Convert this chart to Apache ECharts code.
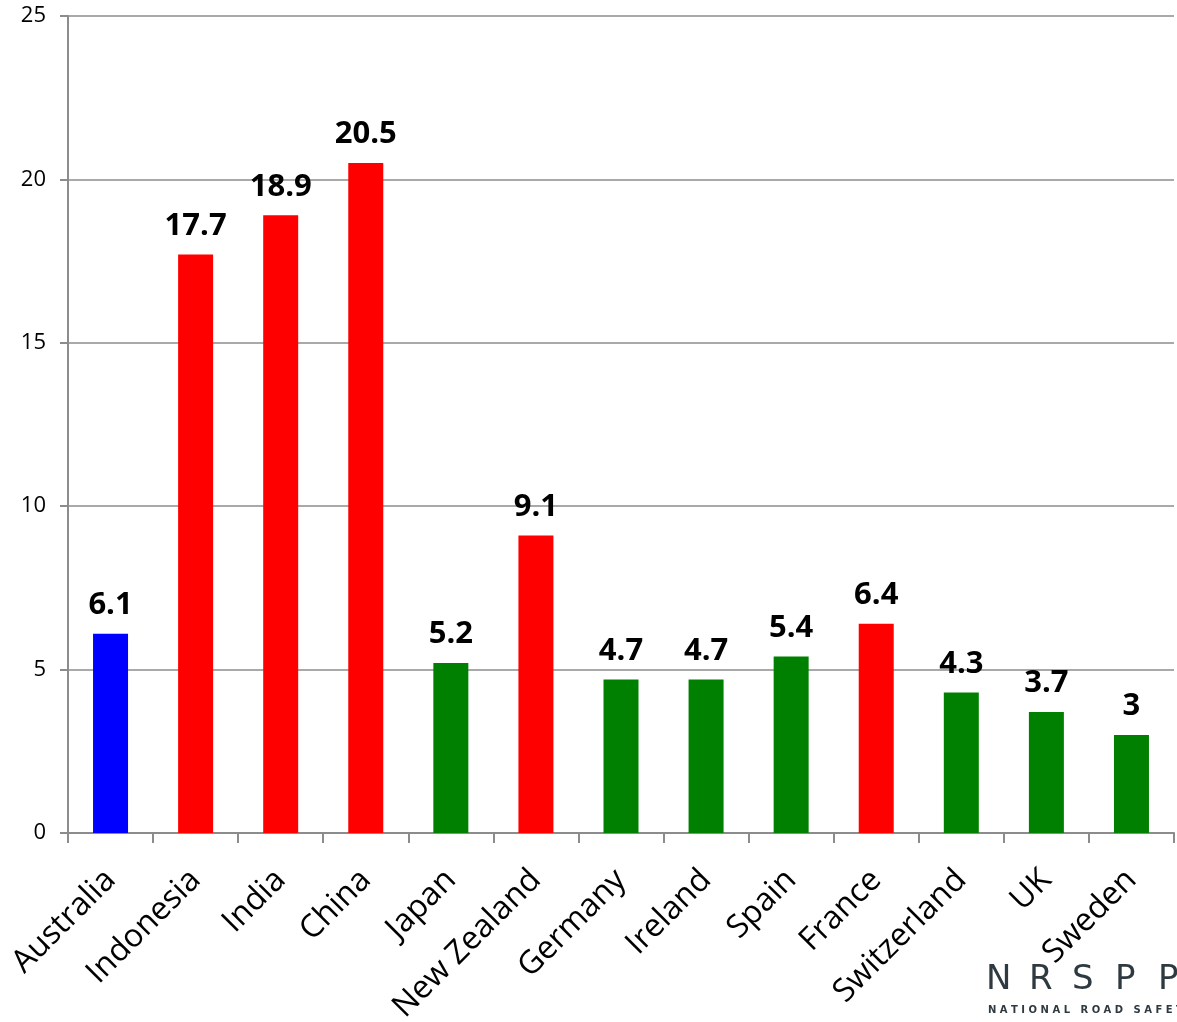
<!DOCTYPE html>
<html><head><meta charset="utf-8">
<script src="https://cdn.jsdelivr.net/npm/echarts@6/dist/echarts.min.js"></script>
<style>html,body{margin:0;padding:0;background:#fff}#c{width:1177px;height:1022px}</style>
</head><body><div id="c"></div>
<script>
const categories = ['Australia','Indonesia','India','China','Japan','New Zealand','Germany','Ireland','Spain','France','Switzerland','UK','Sweden'];
const values = [6.1,17.7,18.9,20.5,5.2,9.1,4.7,4.7,5.4,6.4,4.3,3.7,3];
const groups = ['blue','red','red','red','green','red','green','green','green','red','green','green','green'];
const palette = {blue:'#0000FF', red:'#FF0000', green:'#008000'};
const yTicks = {min:0, max:25, interval:5};
const logoLetters = ['N','R','S','P','P'];

const chart = echarts.init(document.getElementById('c'));
const logo = logoLetters.map((ch,i)=>({type:'text', left:986 + i*43, top:963,
  style:{text:ch, fill:'#2e3a40', font:'34px "DejaVu Sans"'}}));
chart.setOption({
  animation:false,
  grid:{left:68, right:3, top:16, bottom:189, containLabel:false, outerBoundsMode:'none'},
  xAxis:{
    type:'category', data:categories,
    axisLine:{lineStyle:{color:'#8c8c8c', width:2}},
    axisTick:{show:true, length:10, alignWithLabel:false, lineStyle:{color:'#8c8c8c', width:2}},
    axisLabel:{rotate:45, interval:0, margin:42, color:'#000', fontSize:32, fontFamily:'Open Sans'}
  },
  yAxis:{
    type:'value', min:yTicks.min, max:yTicks.max, interval:yTicks.interval,
    axisLine:{show:true, lineStyle:{color:'#8c8c8c', width:2}},
    axisTick:{show:true, length:8, lineStyle:{color:'#8c8c8c', width:2}},
    splitLine:{lineStyle:{color:'#8c8c8c', width:1.5}},
    axisLabel:{margin:22, color:'#000', fontSize:22, fontFamily:'Open Sans'}
  },
  series:[{
    type:'bar', barWidth:35,
    data: values.map((v,i)=>({value:v, itemStyle:{color:palette[groups[i]]}})),
    label:{show:true, position:'top', distance:13, color:'#000', fontSize:31, fontWeight:'bold', fontFamily:'Open Sans'}
  }],
  graphic: logo.concat([
    {type:'text', left:988, top:1005, style:{text:'N A T I O N A L   R O A D   S A F E T Y', fill:'#2e3a40', font:'bold 10px "DejaVu Sans"'}}
  ])
});
</script></body></html>
